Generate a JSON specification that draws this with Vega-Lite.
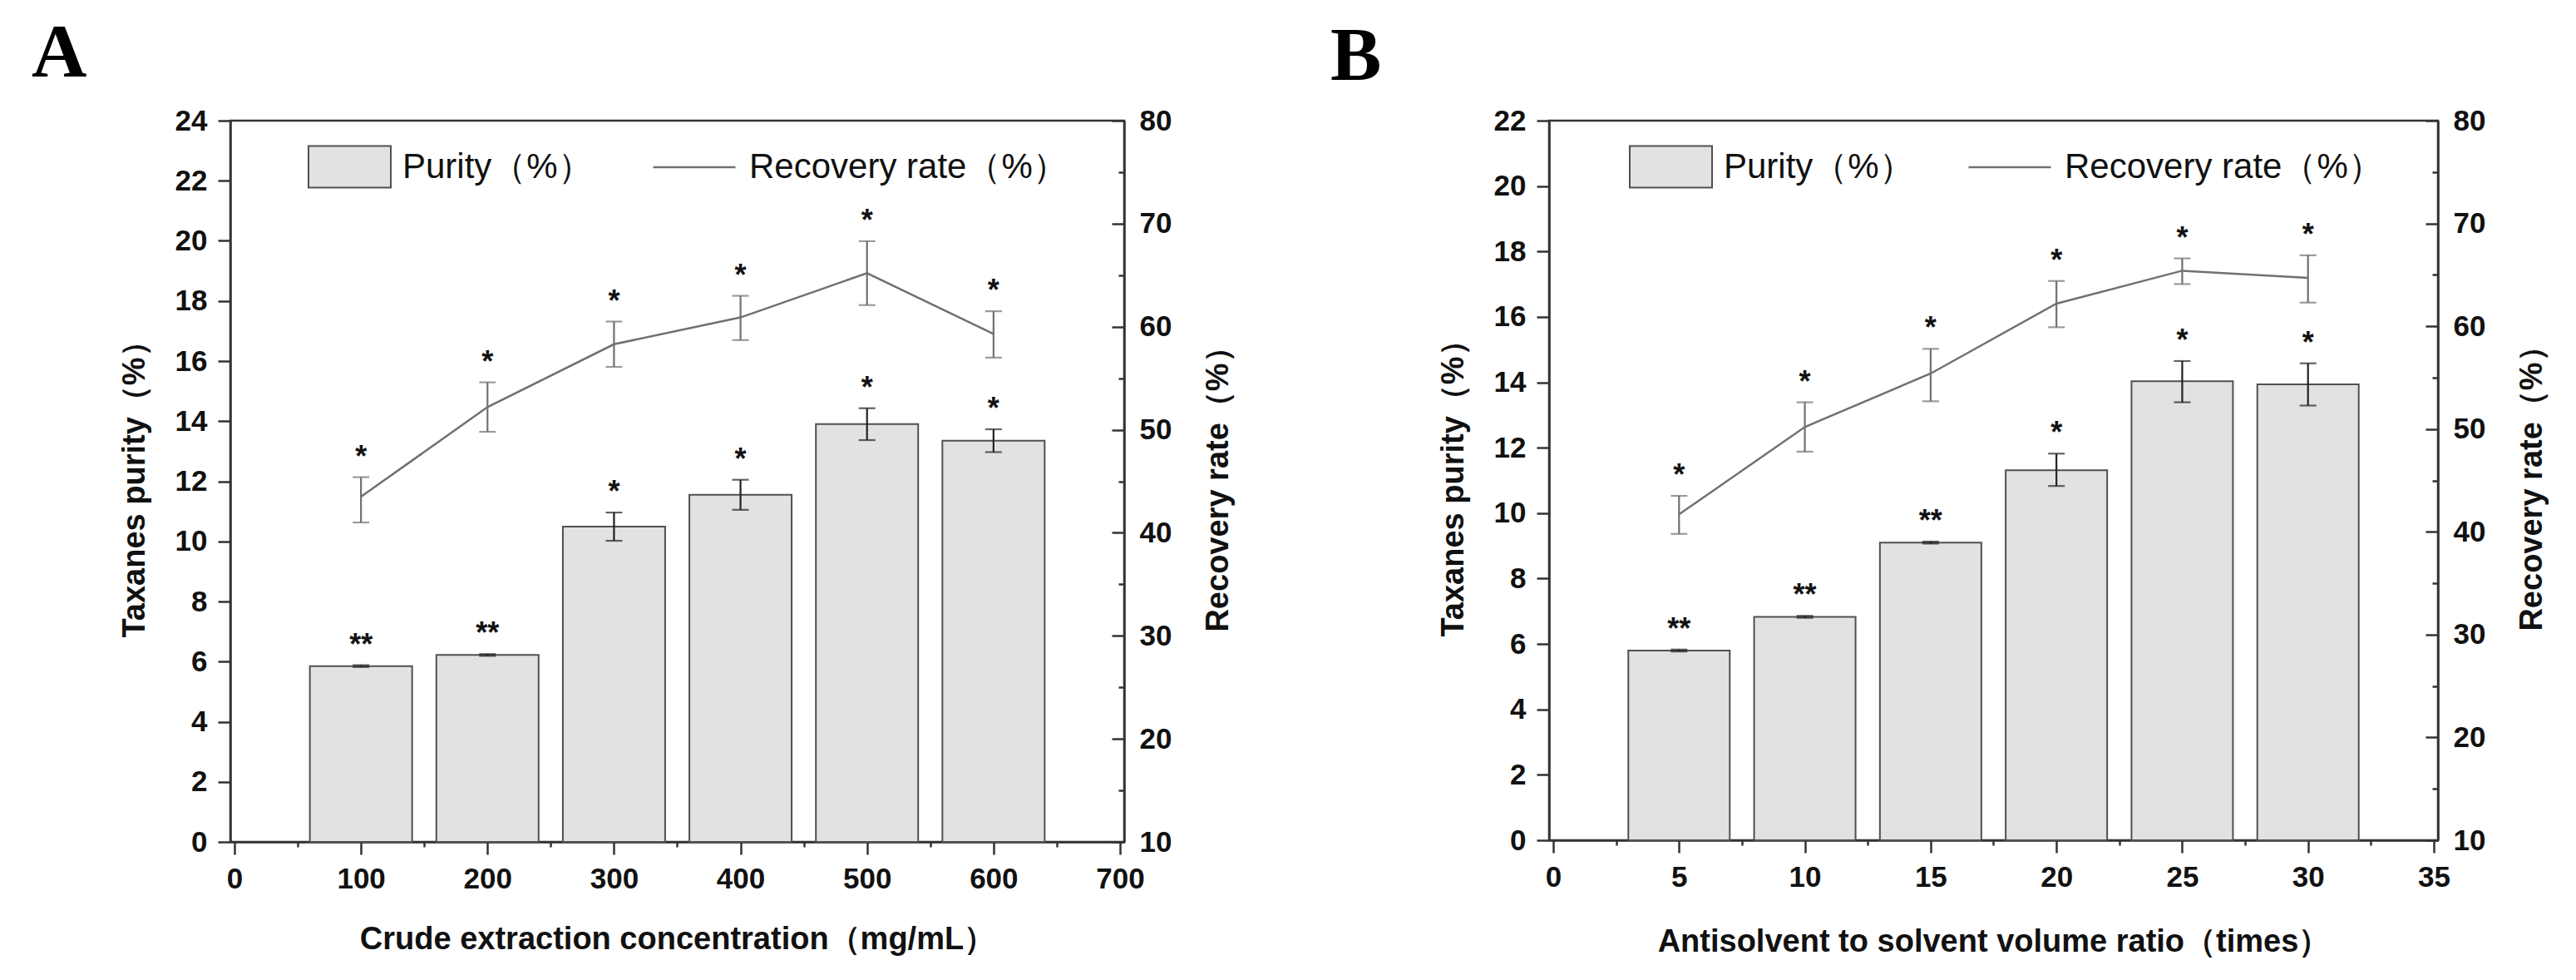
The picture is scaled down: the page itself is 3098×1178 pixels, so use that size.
{
  "$schema": "https://vega.github.io/schema/vega-lite/v6.json",
  "background": "white",
  "padding": {"left": 36, "top": 16, "right": 10, "bottom": 10},
  "config": {
    "view": {"stroke": "#333", "strokeWidth": 2.5},
    "font": "Liberation Sans",
    "axis": {
      "grid": false,
      "domainColor": "#333",
      "domainWidth": 2.5,
      "tickColor": "#333",
      "tickWidth": 2.5,
      "labelFont": "Liberation Sans",
      "labelFontSize": 35,
      "labelFontWeight": "bold",
      "labelColor": "#111",
      "titleFont": "Liberation Sans",
      "titleFontSize": 38,
      "titleFontWeight": "bold",
      "titleColor": "#111",
      "labelOverlap": false,
      "labelFlush": false,
      "labelBound": false
    },
    "legend": {
      "orient": "none",
      "title": null,
      "padding": 0,
      "labelFont": "Liberation Sans",
      "labelFontSize": 42,
      "labelFontWeight": "normal",
      "labelColor": "#111",
      "labelLimit": 800,
      "symbolSize": 9801
    }
  },
  "datasets": {
    "A": [
      {"conc": 100, "purity": 5.85, "p_lo": 5.82, "p_hi": 5.88, "p_sig": "**", "rec": 43.5, "r_lo": 41.0, "r_hi": 45.4, "r_sig": "*"},
      {"conc": 200, "purity": 6.22, "p_lo": 6.19, "p_hi": 6.25, "p_sig": "**", "rec": 52.2, "r_lo": 49.8, "r_hi": 54.6, "r_sig": "*"},
      {"conc": 300, "purity": 10.49, "p_lo": 10.02, "p_hi": 10.96, "p_sig": "*", "rec": 58.3, "r_lo": 56.1, "r_hi": 60.5, "r_sig": "*"},
      {"conc": 400, "purity": 11.55, "p_lo": 11.05, "p_hi": 12.05, "p_sig": "*", "rec": 60.9, "r_lo": 58.7, "r_hi": 63.0, "r_sig": "*"},
      {"conc": 500, "purity": 13.9, "p_lo": 13.37, "p_hi": 14.43, "p_sig": "*", "rec": 65.2, "r_lo": 62.1, "r_hi": 68.3, "r_sig": "*"},
      {"conc": 600, "purity": 13.35, "p_lo": 12.97, "p_hi": 13.73, "p_sig": "*", "rec": 59.3, "r_lo": 57.0, "r_hi": 61.5, "r_sig": "*"}
    ],
    "B": [
      {"ratio": 5, "purity": 5.8, "p_lo": 5.77, "p_hi": 5.83, "p_sig": "**", "rec": 41.7, "r_lo": 39.8, "r_hi": 43.5, "r_sig": "*"},
      {"ratio": 10, "purity": 6.83, "p_lo": 6.8, "p_hi": 6.86, "p_sig": "**", "rec": 50.2, "r_lo": 47.8, "r_hi": 52.6, "r_sig": "*"},
      {"ratio": 15, "purity": 9.1, "p_lo": 9.07, "p_hi": 9.13, "p_sig": "**", "rec": 55.4, "r_lo": 52.7, "r_hi": 57.8, "r_sig": "*"},
      {"ratio": 20, "purity": 11.31, "p_lo": 10.83, "p_hi": 11.82, "p_sig": "*", "rec": 62.2, "r_lo": 59.9, "r_hi": 64.4, "r_sig": "*"},
      {"ratio": 25, "purity": 14.03, "p_lo": 13.39, "p_hi": 14.65, "p_sig": "*", "rec": 65.4, "r_lo": 64.1, "r_hi": 66.6, "r_sig": "*"},
      {"ratio": 30, "purity": 13.94, "p_lo": 13.29, "p_hi": 14.58, "p_sig": "*", "rec": 64.7, "r_lo": 62.3, "r_hi": 66.9, "r_sig": "*"}
    ]
  },
  "bounds": "flush",
  "spacing": 511,
  "resolve": {
    "scale": {"x": "independent", "y": "independent", "fill": "independent", "stroke": "independent"},
    "legend": {"fill": "independent", "stroke": "independent"}
  },
  "hconcat": [
    {
      "width": 1075,
      "height": 867,
      "title": {"text": "A", "anchor": "start", "frame": "group", "font": "Liberation Serif", "fontSize": 92, "fontWeight": "bold", "color": "#000", "dx": -239, "dy": -3, "offset": 14},
      "data": {"name": "A"},
      "encoding": {
        "x": {
          "field": "conc", "type": "quantitative",
          "scale": {"domain": [0, 700], "nice": false, "zero": false},
          "axis": {
            "orient": "bottom",
            "values": [0, 50, 100, 150, 200, 250, 300, 350, 400, 450, 500, 550, 600, 650, 700],
            "labelExpr": "datum.value % 100 === 0 ? datum.label : ''",
            "tickSize": {"condition": {"test": "datum.value % 100 === 0", "value": 15}, "value": 6},
            "labelPadding": 12,
            "title": "Crude extraction concentration（mg/mL）",
            "titlePadding": 36
          }
        }
      },
      "layer": [
        {
          "layer": [
            {
              "mark": {"type": "bar", "size": 123, "stroke": "#505050", "strokeWidth": 2},
              "encoding": {
                "y": {
                  "field": "purity", "type": "quantitative", "title": "Taxanes purity（%）",
                  "scale": {"domain": [0, 24], "nice": false, "zero": false},
                  "axis": {
                    "orient": "left",
                    "values": [0, 1, 2, 3, 4, 5, 6, 7, 8, 9, 10, 11, 12, 13, 14, 15, 16, 17, 18, 19, 20, 21, 22, 23, 24],
                    "labelExpr": "datum.value % 2 === 0 ? datum.label : ''",
                    "tickSize": {"condition": {"test": "datum.value % 2 === 0", "value": 15}, "value": 8},
                    "labelPadding": 13,
                    "title": "Taxanes purity（%）",
                    "titlePadding": 29
                  }
                },
                "fill": {
                  "datum": "Purity（%）", "type": "nominal",
                  "scale": {"range": ["#e2e2e2"]},
                  "legend": {"legendX": 93, "legendY": 5, "symbolType": "M-1,-0.505H1V0.505H-1Z", "symbolStrokeColor": "#505050", "symbolStrokeWidth": 2, "labelOffset": 13}
                }
              }
            },
            {
              "mark": {"type": "errorbar", "ticks": {"size": 20, "thickness": 2.2, "color": "#222"}, "rule": {"strokeWidth": 2.2, "color": "#222"}},
              "encoding": {
                "y": {"field": "p_lo", "type": "quantitative", "title": "Taxanes purity（%）"},
                "y2": {"field": "p_hi"}
              }
            },
            {
              "mark": {"type": "text", "font": "Liberation Sans", "fontSize": 36, "fontWeight": "bold", "baseline": "alphabetic", "dy": -13, "color": "#111"},
              "encoding": {
                "y": {"field": "p_hi", "type": "quantitative", "title": "Taxanes purity（%）"},
                "text": {"field": "p_sig"}
              }
            }
          ]
        },
        {
          "layer": [
            {
              "mark": {"type": "line", "strokeWidth": 2.5},
              "encoding": {
                "y": {
                  "field": "rec", "type": "quantitative", "title": "Recovery rate（%）",
                  "scale": {"domain": [10, 80], "nice": false, "zero": false},
                  "axis": {
                    "orient": "right",
                    "values": [10, 15, 20, 25, 30, 35, 40, 45, 50, 55, 60, 65, 70, 75, 80],
                    "labelExpr": "datum.value % 10 === 0 ? datum.label : ''",
                    "tickSize": {"condition": {"test": "datum.value % 10 === 0", "value": -15}, "value": -7},
                    "labelPadding": 33,
                    "title": "Recovery rate（%）",
                    "titleAngle": 270,
                    "titleBaseline": "top",
                    "titlePadding": 38
                  }
                },
                "stroke": {
                  "datum": "Recovery rate（%）", "type": "nominal",
                  "scale": {"range": ["#707070"]},
                  "legend": {"legendX": 507, "legendY": 5, "symbolType": "stroke", "symbolStrokeWidth": 2.5, "labelOffset": 15}
                }
              }
            },
            {
              "mark": {"type": "errorbar", "ticks": {"size": 20, "thickness": 2.2, "color": "#707070"}, "rule": {"strokeWidth": 2.2, "color": "#707070"}},
              "encoding": {
                "y": {"field": "r_lo", "type": "quantitative", "title": "Recovery rate（%）"},
                "y2": {"field": "r_hi"}
              }
            },
            {
              "mark": {"type": "text", "font": "Liberation Sans", "fontSize": 36, "fontWeight": "bold", "baseline": "alphabetic", "dy": -13, "color": "#111"},
              "encoding": {
                "y": {"field": "r_hi", "type": "quantitative", "title": "Recovery rate（%）"},
                "text": {"field": "r_sig"}
              }
            }
          ]
        }
      ],
      "resolve": {"scale": {"y": "independent"}}
    },
    {
      "width": 1069,
      "height": 865,
      "title": {"text": "B", "anchor": "start", "frame": "group", "font": "Liberation Serif", "fontSize": 92, "fontWeight": "bold", "color": "#000", "dx": -263, "dy": 1, "offset": 14},
      "data": {"name": "B"},
      "encoding": {
        "x": {
          "field": "ratio", "type": "quantitative",
          "scale": {"domain": [0, 35], "nice": false, "zero": false},
          "axis": {
            "orient": "bottom",
            "values": [0, 2.5, 5, 7.5, 10, 12.5, 15, 17.5, 20, 22.5, 25, 27.5, 30, 32.5, 35],
            "labelExpr": "datum.value % 5 === 0 ? datum.label : ''",
            "tickSize": {"condition": {"test": "datum.value % 5 === 0", "value": 15}, "value": 6},
            "labelPadding": 12,
            "title": "Antisolvent to solvent volume ratio（times）",
            "titlePadding": 41
          }
        }
      },
      "layer": [
        {
          "layer": [
            {
              "mark": {"type": "bar", "size": 122, "stroke": "#505050", "strokeWidth": 2},
              "encoding": {
                "y": {
                  "field": "purity", "type": "quantitative", "title": "Taxanes purity（%）",
                  "scale": {"domain": [0, 22], "nice": false, "zero": false},
                  "axis": {
                    "orient": "left",
                    "values": [0, 1, 2, 3, 4, 5, 6, 7, 8, 9, 10, 11, 12, 13, 14, 15, 16, 17, 18, 19, 20, 21, 22],
                    "labelExpr": "datum.value % 2 === 0 ? datum.label : ''",
                    "tickSize": {"condition": {"test": "datum.value % 2 === 0", "value": 15}, "value": 8},
                    "labelPadding": 13,
                    "title": "Taxanes purity（%）",
                    "titlePadding": 29
                  }
                },
                "fill": {
                  "datum": "Purity（%）", "type": "nominal",
                  "scale": {"range": ["#e2e2e2"]},
                  "legend": {"legendX": 96, "legendY": 5, "symbolType": "M-1,-0.505H1V0.505H-1Z", "symbolStrokeColor": "#505050", "symbolStrokeWidth": 2, "labelOffset": 13}
                }
              }
            },
            {
              "mark": {"type": "errorbar", "ticks": {"size": 20, "thickness": 2.2, "color": "#222"}, "rule": {"strokeWidth": 2.2, "color": "#222"}},
              "encoding": {
                "y": {"field": "p_lo", "type": "quantitative", "title": "Taxanes purity（%）"},
                "y2": {"field": "p_hi"}
              }
            },
            {
              "mark": {"type": "text", "font": "Liberation Sans", "fontSize": 36, "fontWeight": "bold", "baseline": "alphabetic", "dy": -13, "color": "#111"},
              "encoding": {
                "y": {"field": "p_hi", "type": "quantitative", "title": "Taxanes purity（%）"},
                "text": {"field": "p_sig"}
              }
            }
          ]
        },
        {
          "layer": [
            {
              "mark": {"type": "line", "strokeWidth": 2.5},
              "encoding": {
                "y": {
                  "field": "rec", "type": "quantitative", "title": "Recovery rate（%）",
                  "scale": {"domain": [10, 80], "nice": false, "zero": false},
                  "axis": {
                    "orient": "right",
                    "values": [10, 15, 20, 25, 30, 35, 40, 45, 50, 55, 60, 65, 70, 75, 80],
                    "labelExpr": "datum.value % 10 === 0 ? datum.label : ''",
                    "tickSize": {"condition": {"test": "datum.value % 10 === 0", "value": -15}, "value": -7},
                    "labelPadding": 33,
                    "title": "Recovery rate（%）",
                    "titleAngle": 270,
                    "titleBaseline": "top",
                    "titlePadding": 38
                  }
                },
                "stroke": {
                  "datum": "Recovery rate（%）", "type": "nominal",
                  "scale": {"range": ["#707070"]},
                  "legend": {"legendX": 503, "legendY": 5, "symbolType": "stroke", "symbolStrokeWidth": 2.5, "labelOffset": 15}
                }
              }
            },
            {
              "mark": {"type": "errorbar", "ticks": {"size": 20, "thickness": 2.2, "color": "#707070"}, "rule": {"strokeWidth": 2.2, "color": "#707070"}},
              "encoding": {
                "y": {"field": "r_lo", "type": "quantitative", "title": "Recovery rate（%）"},
                "y2": {"field": "r_hi"}
              }
            },
            {
              "mark": {"type": "text", "font": "Liberation Sans", "fontSize": 36, "fontWeight": "bold", "baseline": "alphabetic", "dy": -13, "color": "#111"},
              "encoding": {
                "y": {"field": "r_hi", "type": "quantitative", "title": "Recovery rate（%）"},
                "text": {"field": "r_sig"}
              }
            }
          ]
        }
      ],
      "resolve": {"scale": {"y": "independent"}}
    }
  ]
}
